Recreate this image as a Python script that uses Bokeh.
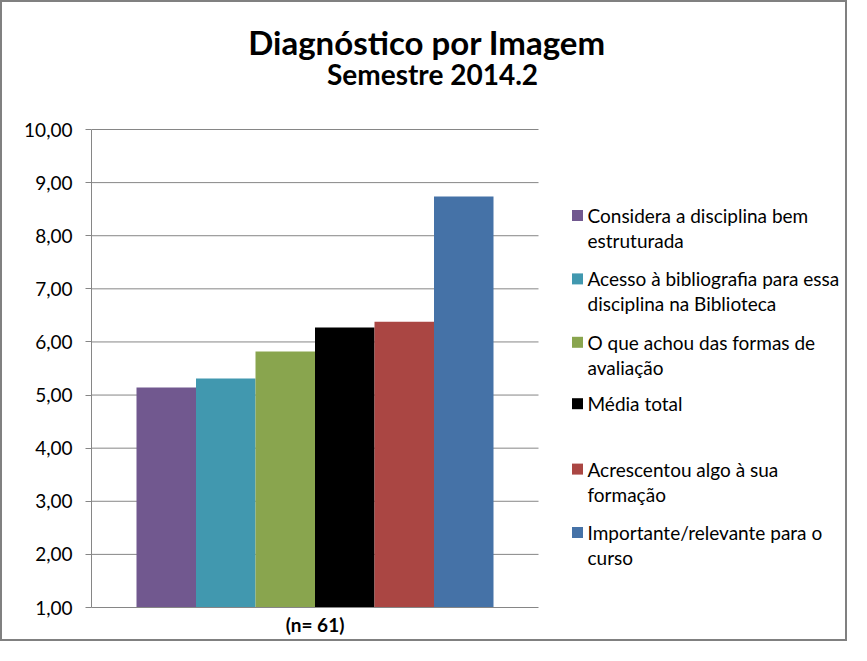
from bokeh.plotting import figure
from bokeh.models import Range1d, FixedTicker, Label
from bokeh.embed import file_html
from bokeh.resources import INLINE

# ---------------- data ----------------
group_label = "(n= 61)"
series = [
    "Considera a disciplina bem\nestruturada",
    "Acesso à bibliografia para essa\ndisciplina na Biblioteca",
    "O que achou das formas de\navaliação",
    "Média total",
    "Acrescentou algo à sua\nformação",
    "Importante/relevante para o\ncurso",
]
values = [5.14, 5.31, 5.82, 6.27, 6.38, 8.74]
colors = ["#71588F", "#4198AF", "#89A54E", "#000000", "#AA4643", "#4572A7"]
y_ticks = [1, 2, 3, 4, 5, 6, 7, 8, 9, 10]
y_tick_labels = ["1,00", "2,00", "3,00", "4,00", "5,00", "6,00", "7,00", "8,00", "9,00", "10,00"]
title_text = "Diagnóstico por Imagem"
subtitle_text = "Semestre 2014.2"

# ---------------- layout (pixels inside the figure) ----------------
FONT = "Lato"
GRID = "#868686"
W, H = 847, 641
FRAME_L, FRAME_R, FRAME_T, FRAME_B = 89, 845, 0, 605
PLOT_W = 447              # width of the bar area (axes box)
BAR_PX = 59.5             # one bar width in pixels
PPU = 478.0 / 9.0         # pixels per y unit

x_lo = -(PLOT_W / 2.0) / BAR_PX
x_hi = x_lo + (FRAME_R - FRAME_L) / BAR_PX
y_lo = min(y_ticks)
y_hi = y_lo + (FRAME_B - FRAME_T) / PPU


def px_x(fx):
    return x_lo + (fx - FRAME_L) / BAR_PX


def px_y(fy):
    return y_lo + (FRAME_B - fy) / PPU


p = figure(width=W, height=H, output_backend="svg", toolbar_location=None,
           x_range=Range1d(x_lo, x_hi), y_range=Range1d(y_lo, y_hi),
           min_border_left=FRAME_L, min_border_right=W - FRAME_R,
           min_border_top=FRAME_T, min_border_bottom=H - FRAME_B,
           background_fill_color="white", border_fill_color="white",
           title=None)
p.styles = {"border": "2px solid #808080"}
p.outline_line_color = None
p.xgrid.visible = False
p.ygrid.visible = False

# gridlines limited to the axes box
grid_y = y_ticks[1:]
p.segment(x0=[x_lo] * len(grid_y), x1=[-x_lo] * len(grid_y), y0=grid_y, y1=grid_y,
          line_color=GRID, line_width=1)

# bars
n = len(values)
bar_x = [i - (n - 1) / 2.0 for i in range(n)]
p.vbar(x=bar_x, top=values, bottom=y_lo, width=1.0, fill_color=colors, line_color=None)

# axes
p.yaxis.bounds = (y_lo, max(y_ticks))
p.yaxis.ticker = FixedTicker(ticks=y_ticks)
p.yaxis.major_label_overrides = {t: l for t, l in zip(y_ticks, y_tick_labels)}
p.yaxis.minor_tick_line_color = None
p.yaxis.major_tick_out = 6
p.yaxis.major_tick_in = 0
p.yaxis.major_label_standoff = 13
p.yaxis.axis_line_color = GRID
p.yaxis.major_tick_line_color = GRID
p.yaxis.major_label_text_font = FONT
p.yaxis.major_label_text_font_size = "19px"
p.yaxis.major_label_text_color = "#000000"

p.xaxis.bounds = (x_lo, -x_lo)
p.xaxis.ticker = FixedTicker(ticks=[0])
p.xaxis.major_label_overrides = {0: group_label}
p.xaxis.axis_line_color = GRID
p.xaxis.major_tick_line_color = None
p.xaxis.major_tick_out = 0
p.xaxis.major_tick_in = 0
p.xaxis.minor_tick_line_color = None
p.xaxis.major_label_text_font = FONT
p.xaxis.major_label_text_font_size = "19px"
p.xaxis.major_label_text_font_style = "bold"
p.xaxis.major_label_text_color = "#000000"
p.xaxis.major_label_standoff = 5

# legend (square + wrapped label per series)
LEG_SQ_X, LEG_TXT_X, LEG_Y0, LEG_PITCH, LINE_PX = 575, 585, 213, 63.4, 25
sq_x, sq_y, t_x, t_y, t_txt = [], [], [], [], []
for i, s in enumerate(series):
    cy = LEG_Y0 + i * LEG_PITCH
    if i == 3:
        cy -= 2
    sq_x.append(px_x(LEG_SQ_X))
    sq_y.append(px_y(cy))
    for k, line in enumerate(s.split("\n")):
        t_x.append(px_x(LEG_TXT_X))
        t_y.append(px_y(cy + k * LINE_PX))
        t_txt.append(line)
p.scatter(x=sq_x, y=sq_y, marker="square", size=11, fill_color=colors, line_color=None)
p.text(x=t_x, y=t_y, text=t_txt, text_align="left", text_baseline="middle",
       text_font={"value": FONT}, text_font_size="19px", text_color="#000000")

# titles
p.add_layout(Label(x=px_x(424.5), y=px_y(39.8), text=title_text,
                   text_align="center", text_baseline="alphabetic", text_font=FONT,
                   text_font_size="33px", text_font_style="bold", text_color="#000000"))
p.add_layout(Label(x=px_x(430), y=px_y(71.8), text=subtitle_text,
                   text_align="center", text_baseline="alphabetic", text_font=FONT,
                   text_font_size="28px", text_font_style="bold", text_color="#000000"))

open("out.html", "w").write(file_html(p, INLINE))
